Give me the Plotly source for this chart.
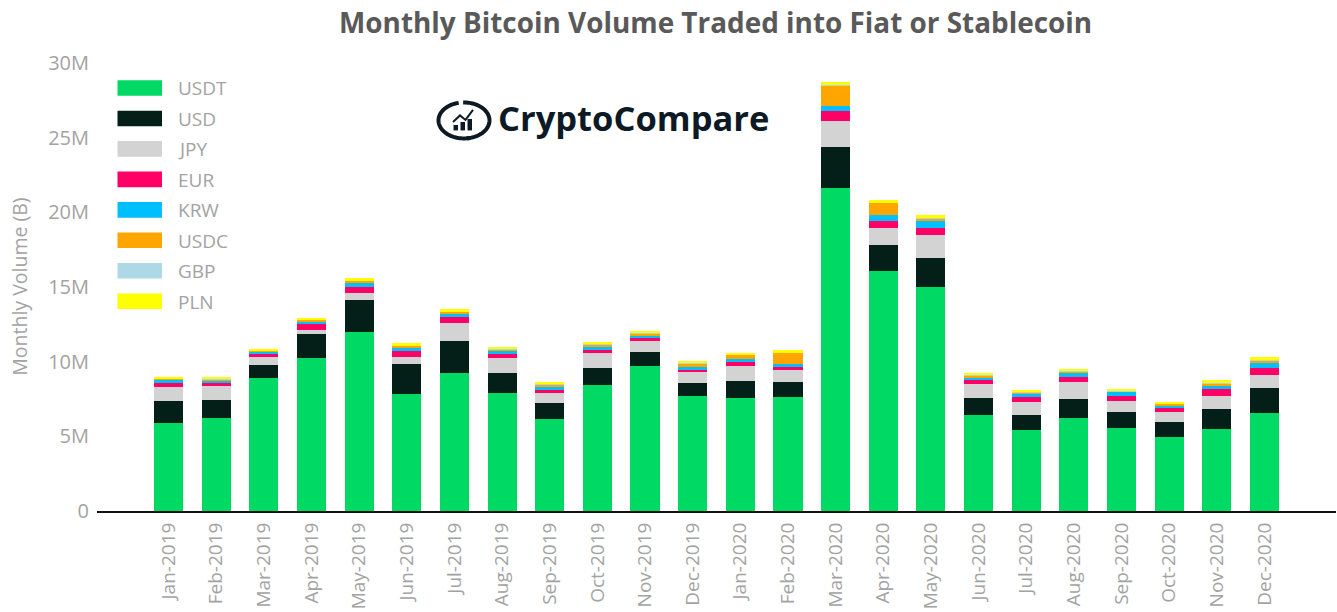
import numpy as np
import plotly.graph_objects as go

months = ["Jan-2019","Feb-2019","Mar-2019","Apr-2019","May-2019","Jun-2019","Jul-2019","Aug-2019","Sep-2019","Oct-2019","Nov-2019","Dec-2019",
          "Jan-2020","Feb-2020","Mar-2020","Apr-2020","May-2020","Jun-2020","Jul-2020","Aug-2020","Sep-2020","Oct-2020","Nov-2020","Dec-2020"]
USDT = [5.88,6.22,8.89,10.23,11.97,7.82,9.22,7.89,6.15,8.42,9.69,7.69,7.55,7.64,21.62,16.04,14.97,6.42,5.41,6.26,5.55,4.95,5.48,6.55]
USD  = [1.47,1.20,0.87,1.60,2.14,2.01,2.14,1.34,1.07,1.14,0.94,0.87,1.14,0.98,2.74,1.74,1.94,1.14,1.00,1.24,1.07,1.00,1.36,1.67]
JPY  = [0.94,0.94,0.53,0.27,0.47,0.47,1.20,1.00,0.67,1.00,0.74,0.74,1.00,0.80,1.74,1.20,1.54,0.94,0.87,1.14,0.74,0.67,0.85,0.87]
EUR  = [0.27,0.27,0.22,0.40,0.40,0.40,0.40,0.27,0.27,0.27,0.27,0.20,0.27,0.27,0.67,0.47,0.53,0.27,0.33,0.31,0.33,0.31,0.45,0.47]
KRW  = [0.22,0.13,0.18,0.20,0.33,0.25,0.27,0.27,0.13,0.13,0.13,0.13,0.20,0.13,0.33,0.35,0.42,0.20,0.27,0.33,0.29,0.15,0.29,0.40]
USDC = [0.07,0.07,0.07,0.09,0.13,0.11,0.13,0.05,0.20,0.20,0.13,0.27,0.33,0.80,1.40,0.85,0.18,0.13,0.07,0.07,0.05,0.13,0.13,0.13]
GBP  = [0.02,0.02,0.02,0.02,0.02,0.02,0.02,0.07,0.02,0.03,0.02,0.02,0.02,0.02,0.02,0.02,0.09,0.02,0.02,0.07,0.02,0.02,0.02,0.02]
PLN  = [0.10,0.07,0.07,0.11,0.13,0.18,0.13,0.07,0.07,0.10,0.07,0.07,0.07,0.13,0.20,0.13,0.13,0.13,0.13,0.07,0.07,0.07,0.20,0.20]

series_names = ["USDT","USD","JPY","EUR","KRW","USDC","GBP","PLN"]
series_values = [USDT,USD,JPY,EUR,KRW,USDC,GBP,PLN]
series_colors = ["#00D964","#031F18","#D3D3D3","#FF0066","#00BFFF","#FFA500","#ADD8E6","#FFFF00"]

y_ticks = [0,5,10,15,20,25,30]
y_labels = ["0","5M","10M","15M","20M","25M","30M"]

LOGO = "#0D1A26"
L, R, T, B = 97, 1336, 63, 511.5
def px(x): return (x-L)/(R-L)
def py(y): return (B-y)/(B-T)

fig = go.Figure()
for name, vals, col in zip(series_names, series_values, series_colors):
    fig.add_bar(x=months, y=vals, name=name, marker=dict(color=col, line_width=0), showlegend=False)

shapes, annos = [], []
# legend
for i,(name,col) in enumerate(zip(series_names, series_colors)):
    cy = 88 + i*30.5
    shapes.append(dict(type="rect", xref="paper", yref="paper", x0=px(117.5), x1=px(162), y0=py(cy-7.8), y1=py(cy+7.8),
                       fillcolor=col, line_width=0))
    annos.append(dict(xref="paper", yref="paper", x=px(176), y=py(cy+0.5), text=name, showarrow=False, xanchor="left", yanchor="middle",
                      font=dict(family="Open Sans", size=19, color="#A3A3A3")))

# logo mark
def arc(a0,a1,n=50):
    t = np.radians(np.linspace(a0,a1,n))
    xs = 464+25.5*np.cos(t); ys = 120.5-18*np.sin(t)
    return "M"+" L".join(f"{px(a):.5f},{py(b):.5f}" for a,b in zip(xs,ys))
shapes.append(dict(type="path", xref="paper", yref="paper", path=arc(102,283), line=dict(color=LOGO,width=4)))
shapes.append(dict(type="path", xref="paper", yref="paper", path=arc(92,-84), line=dict(color=LOGO,width=4)))
for x0,x1,y0 in [(453.5,458,125),(460.5,465,122),(467.5,472,119)]:
    shapes.append(dict(type="rect", xref="paper", yref="paper", x0=px(x0), x1=px(x1), y0=py(y0), y1=py(130.5), fillcolor=LOGO, line_width=0))
pts=[(453,122),(460,115.5),(465.5,120),(473,110)]
shapes.append(dict(type="path", xref="paper", yref="paper", line=dict(color=LOGO,width=2),
                   path="M"+" L".join(f"{px(a):.5f},{py(b):.5f}" for a,b in pts)))
annos.append(dict(xref="paper", yref="paper", x=px(496), y=py(118), text="<b>CryptoCompare</b>", showarrow=False, xanchor="left", yanchor="middle",
                  font=dict(family="Open Sans", size=34.5, color=LOGO)))
# title
annos.append(dict(xref="paper", yref="paper", x=px(715.5), y=py(22), text="<b>Monthly Bitcoin Volume Traded into Fiat or Stablecoin</b>", showarrow=False,
                  xanchor="center", yanchor="middle", font=dict(family="Open Sans", size=27.9, color="#595959")))
# y title
annos.append(dict(xref="paper", yref="paper", x=px(20), y=py(287), text="Monthly Volume (B)", showarrow=False, textangle=-90,
                  xanchor="center", yanchor="middle", font=dict(family="Open Sans", size=19.5, color="#A3A3A3")))

fig.update_layout(
    barmode="stack", bargap=0.39, width=1337, height=612,
    margin=dict(l=L, r=1337-R, t=T, b=612-B, pad=0),
    paper_bgcolor="white", plot_bgcolor="white",
    shapes=shapes, annotations=annos,
    xaxis=dict(type="category", range=[-1.5,24.5], tickangle=-90, showgrid=False, ticks="", showline=True, linecolor="#111111", linewidth=2,
               ticklabelstandoff=2, tickfont=dict(family="Open Sans", size=19, color="#A3A3A3"), automargin=False),
    yaxis=dict(range=[0,30], tickvals=y_ticks, ticktext=y_labels, showgrid=False, zeroline=False, ticks="", showline=False,
               ticklabelstandoff=7, tickfont=dict(family="Open Sans", size=20, color="#A3A3A3"), automargin=False),
)
fig.write_html("out.html", config=dict(displayModeBar=False), post_script="document.body.style.margin='0';document.body.style.overflow='hidden';")
